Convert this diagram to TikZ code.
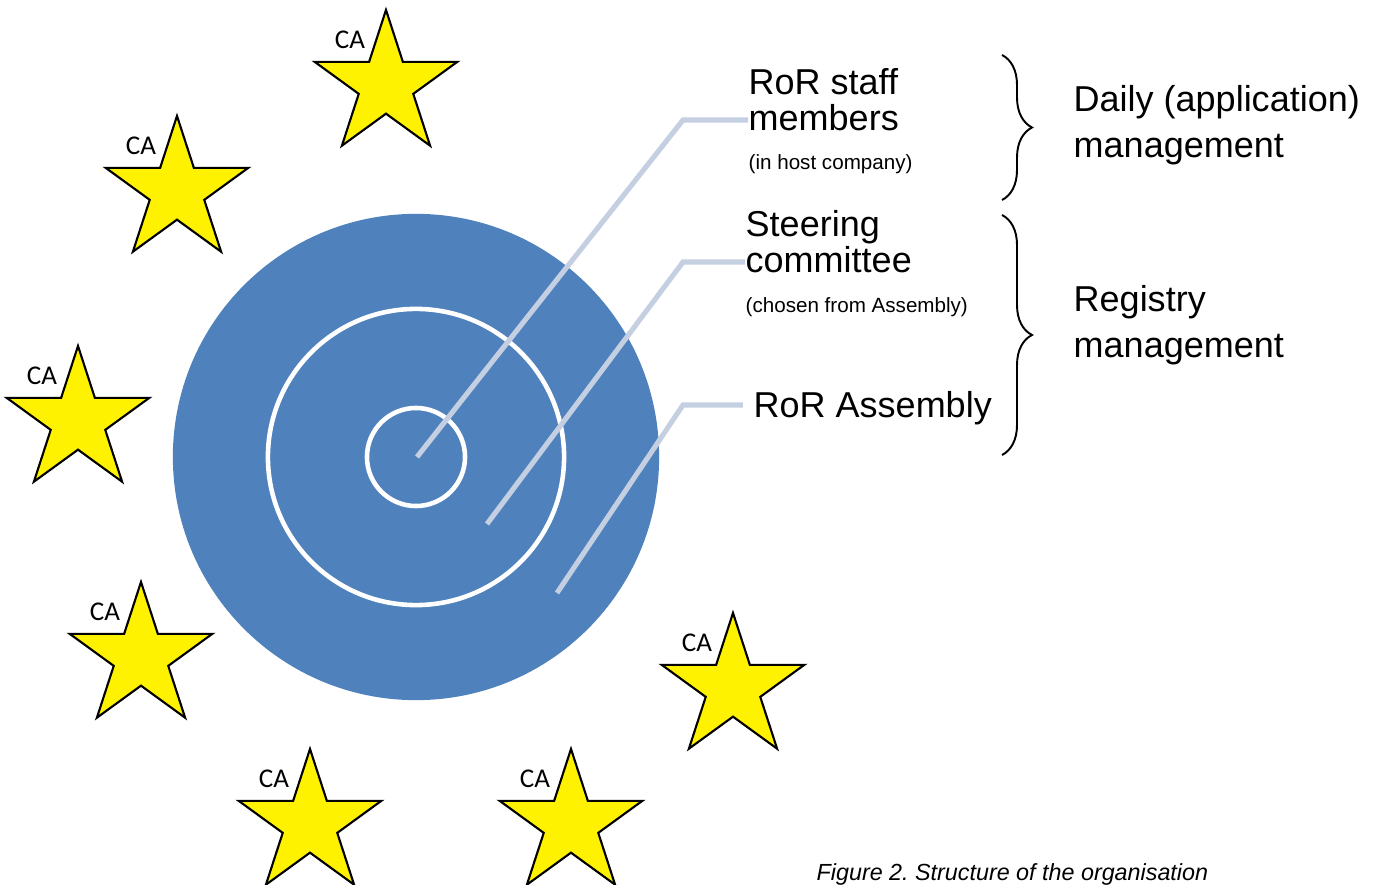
\documentclass[tikz,border=0pt]{standalone}
\usepackage{fontspec}
\setmainfont{Liberation Sans}
\newfontfamily\calibri{Carlito}
\usetikzlibrary{calc}
\usetikzlibrary{shapes.geometric}
\usetikzlibrary{decorations.pathreplacing}
\definecolor{ringblue}{HTML}{4F81BD}
\definecolor{leadgray}{HTML}{C5CFE2}

\begin{document}
\begin{tikzpicture}[x=0.01cm,y=-0.01cm,
  castar/.style={star,star points=5,star point ratio=2.618,minimum size=1.5cm,inner sep=0pt,draw=black,line width=0.6pt,fill=yellow},
  calabel/.style={inner sep=0pt,font=\calibri\fontsize{7.7}{8}\selectfont},
  leader/.style={line width=1.45pt,leadgray},
  big/.style={inner sep=0pt,align=left,font=\fontsize{10.24}{10.3}\selectfont},
  small/.style={inner sep=0pt,font=\fontsize{5.86}{6}\selectfont},
  mgmt/.style={inner sep=0pt,align=left,font=\fontsize{10.24}{13.1}\selectfont},
  curly/.style={decorate,decoration={brace,amplitude=0.3cm},line width=0.55pt}]
\useasboundingbox (0,0) rectangle (1378,885);
%\draw[red] (0,0) rectangle (1378,885);
\fill[ringblue] (416,457) circle (2.43cm);
\draw[white,line width=1.3pt] (416,457) circle (1.48cm);
\draw[white,line width=1.3pt] (416,457) circle (0.49cm);
\foreach \p [count=\i] in {(386,85),(177,191),(78,421),(141,657),(733,688),(310,824),(571,824)} {
  \node[castar] (ca\i) at \p {};
  \node[calabel] (lb\i) at ($(ca\i)+(-36,-45)$) {CA};
}
% base of a two-line node sits on its last line
\node[big,anchor=base west] (staff) at (748,131) {RoR staff\\members};
\node[small,anchor=base west] (host) at (748,170) {(in host company)};
\node[big,anchor=base west] (steer) at (745,273) {Steering\\committee};
\node[small,anchor=base west] (chosen) at (745,313) {(chosen from Assembly)};
\node[big,anchor=base west] (asm) at (753,417) {RoR Assembly};
\coordinate (in1) at (417,457);
\coordinate (in2) at (487,524);
\coordinate (in3) at (557,593);
\coordinate (k1) at (683,120);
\coordinate (k2) at (683,262);
\coordinate (k3) at (683,405);
\draw[leader] (in1) -- (k1) -- (k1 -| staff.west);
\draw[leader] (in2) -- (k2) -- (k2 -| steer.west);
\draw[leader,shorten >=0.1cm] (in3) -- (k3) -- (k3 -| asm.west);
\draw[curly] (1002,55) -- (1002,200);
\draw[curly] (1002,215) -- (1002,455);
\node[mgmt,anchor=base west] (daily) at (1073,158) {Daily (application)\\management};
\node[mgmt,anchor=base west] (reg) at (1073,358) {Registry\\management};
\node[anchor=base west,inner sep=0pt,font=\fontsize{6.63}{7}\selectfont\itshape] (cap) at (816,880) {Figure 2.\ Structure of the organisation};
\end{tikzpicture}
\end{document}
